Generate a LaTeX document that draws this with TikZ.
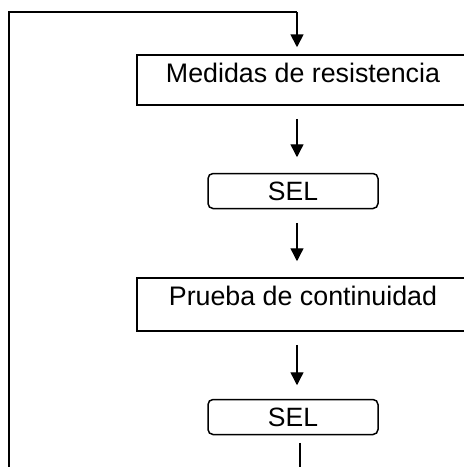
\documentclass[tikz,border=0pt]{standalone}
\usepackage{fontspec}
\setmainfont{Liberation Sans}
\usetikzlibrary{arrows.meta}
\begin{document}
\begin{tikzpicture}[x=1pt,y=-1pt,
  stepbox/.style={draw,line width=1.5pt,inner sep=0pt,minimum width=332pt,
    text height=27pt,text depth=23pt,font=\fontsize{26.8}{30}\selectfont,anchor=base},
  selbox/.style={draw,line width=1.5pt,rounded corners=5pt,inner sep=0pt,
    minimum width=170pt,minimum height=35pt,font=\fontsize{26.5}{30}\selectfont},
  flow/.style={line width=1.4pt,-{Triangle[width=13pt,length=13pt]}},
  loop/.style={line width=2pt}]
\useasboundingbox (0,0) rectangle (464,467);
\clip (0,0) rectangle (464,467);
\node[stepbox] (m) at (303,82) {Medidas de resistencia};
\node[selbox] (s1) at (293,191) {SEL};
\node[stepbox,text depth=26pt] (p) at (303,305) {Prueba de continuidad};
\node[selbox] (s2) at (293,417) {SEL};
\coordinate (tl) at (9,12);
\coordinate (bl) at (9,475);
\coordinate (tr) at (297,12);
\coordinate (be) at (300,475);
\draw[loop] (bl) -- (tl) -- (tr);
\draw[flow,line width=1.8pt,shorten >=7pt] (tr) -- (m.north -| tr);
\draw[flow,shorten <=13pt,shorten >=15.5pt] (m.south -| tr) -- (s1.north -| tr);
\draw[flow,shorten <=13.5pt,shorten >=16pt] (s1.south -| tr) -- (p.north -| tr);
\draw[flow,shorten <=13pt,shorten >=13.5pt] (p.south -| tr) -- (s2.north -| tr);
\draw[loop,line width=2.5pt,shorten <=7.5pt] (s2.south -| be) -- (be);
\end{tikzpicture}
\end{document}
